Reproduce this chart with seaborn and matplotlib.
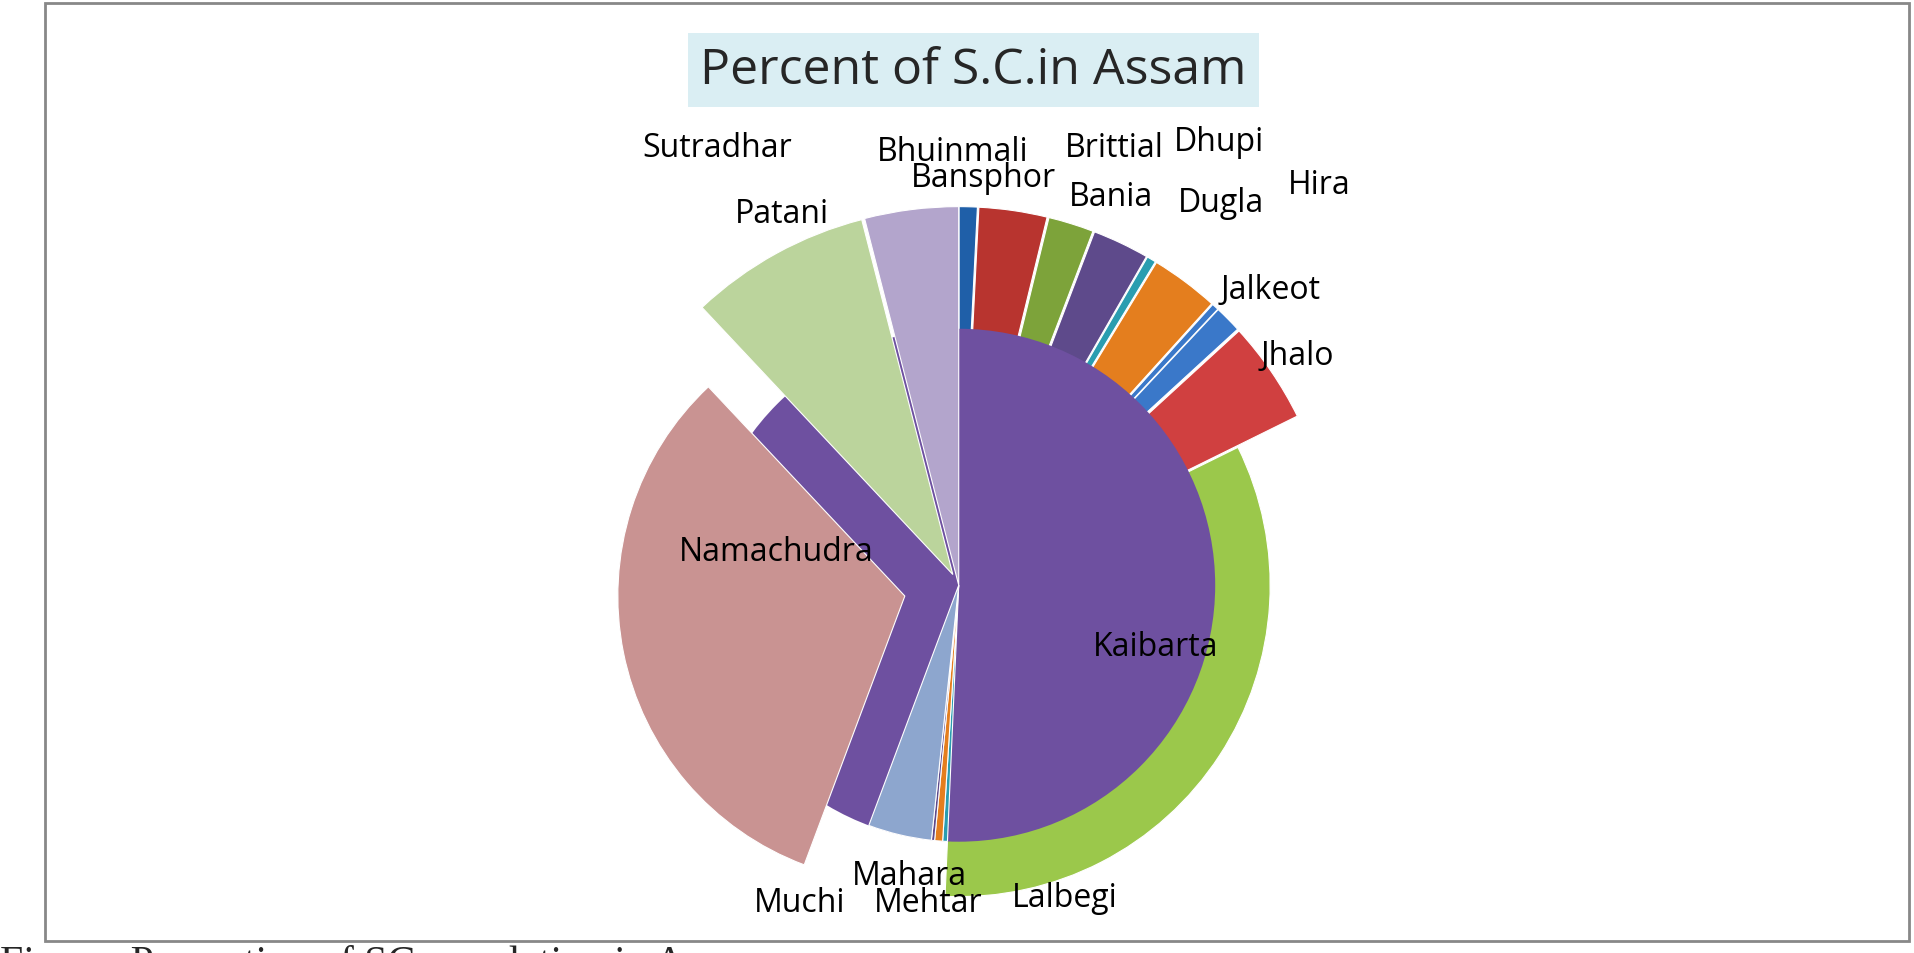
import numpy as np
import matplotlib
matplotlib.use("Agg")
import matplotlib.pyplot as plt
import seaborn as sns
from matplotlib.patches import Wedge, Circle, Rectangle

sns.set_theme(style="white")
plt.rcParams['font.family'] = ['Open Sans', 'DejaVu Sans']

castes = ["Bansphor", "Bhuinmali", "Brittial", "Bania", "Dhupi", "Dugla", "Hira",
          "Jalkeot", "Jhalo", "Kaibarta", "Lalbegi", "Mahara", "Mehtar", "Muchi",
          "Namachudra", "Patani", "Sutradhar"]
percent = [0.8, 3.0, 2.0, 2.5, 0.4, 3.0, 0.3, 1.2, 4.5, 33.0, 0.3, 0.5, 0.2, 4.0,
           32.3, 8.0, 4.0]

# styling (not data)
colors = ["#1F5FA8", "#B8342F", "#7DA33A", "#5E4A8B", "#2A9DB0", "#E47E1E", "#3A78C9",
          "#3A78C9", "#D04040", "#9BC84B", "#2A9DB0", "#E47E1E", "#5E4A8B", "#8DA6CE",
          "#C99392", "#BBD49C", "#B3A5CC"]
radius = [300, 300, 300, 300, 300, 300, 300, 300, 300, 255, 210, 210, 210, 210, 235, 300, 310]
explode = [10, 10, 10, 10, 10, 10, 10, 10, 10, 0, 0, 0, 0, 0, 45, 10, 0]
on_top = [False]*9 + [False, True, True, True, True, True, True, True]
label_pos = [(805, 146), (780, 125), (912, 122), (910, 162), (998, 117), (1000, 167),
             (1080, 152), (1040, 238), (1062, 292), (946, 530), (872, 736), (745, 718),
             (760, 740), (655, 740), (636, 452), (640, 176), (587, 122)]

W, H = 1915, 954
S = 1915 / 1568
fig = plt.figure(figsize=(W/100, H/100), dpi=100)
ax = fig.add_axes([0, 0, 1, 1])
ax.set_xlim(0, W / S); ax.set_ylim(H / S, 0); ax.axis("off")

cx, cy = 785, 480
vals = np.array(percent)
cum = np.concatenate([[0], np.cumsum(vals)]) / vals.sum() * 360
def draw(i, z):
    a0, a1 = cum[i] - 90, cum[i+1] - 90
    mid = np.deg2rad((a0 + a1) / 2)
    ox, oy = cx + explode[i]*np.cos(mid), cy + explode[i]*np.sin(mid)
    ax.add_patch(Wedge((ox, oy), radius[i], a0, a1, facecolor=colors[i],
                       edgecolor="white", lw=0.8, zorder=z))

for i in range(len(vals)):
    if not on_top[i]:
        draw(i, 2)
ax.add_patch(Circle((cx, cy), 210, facecolor="#6E50A0", edgecolor="none", zorder=3))
for i in range(len(vals)):
    if on_top[i]:
        draw(i, 4)

for name, (x, y) in zip(castes, label_pos):
    ax.text(x, y, name, fontsize=23, ha="center", va="center", color="black", zorder=6)

ax.text(797, 58, "Percent of S.C.in Assam", fontsize=36, ha="center", va="center",
        bbox=dict(boxstyle="square,pad=0.25", fc="#DAEEF3", ec="none"), zorder=6)
ax.add_patch(Rectangle((37, 3), 1526, 768, fill=False, ec="#888888", lw=2, zorder=1))
ax.text(0, 790, "Figure: Proportion of SC population in Assam", fontsize=30,
        family="Liberation Serif", ha="left", va="center")

fig.savefig("out.png", dpi=100)
